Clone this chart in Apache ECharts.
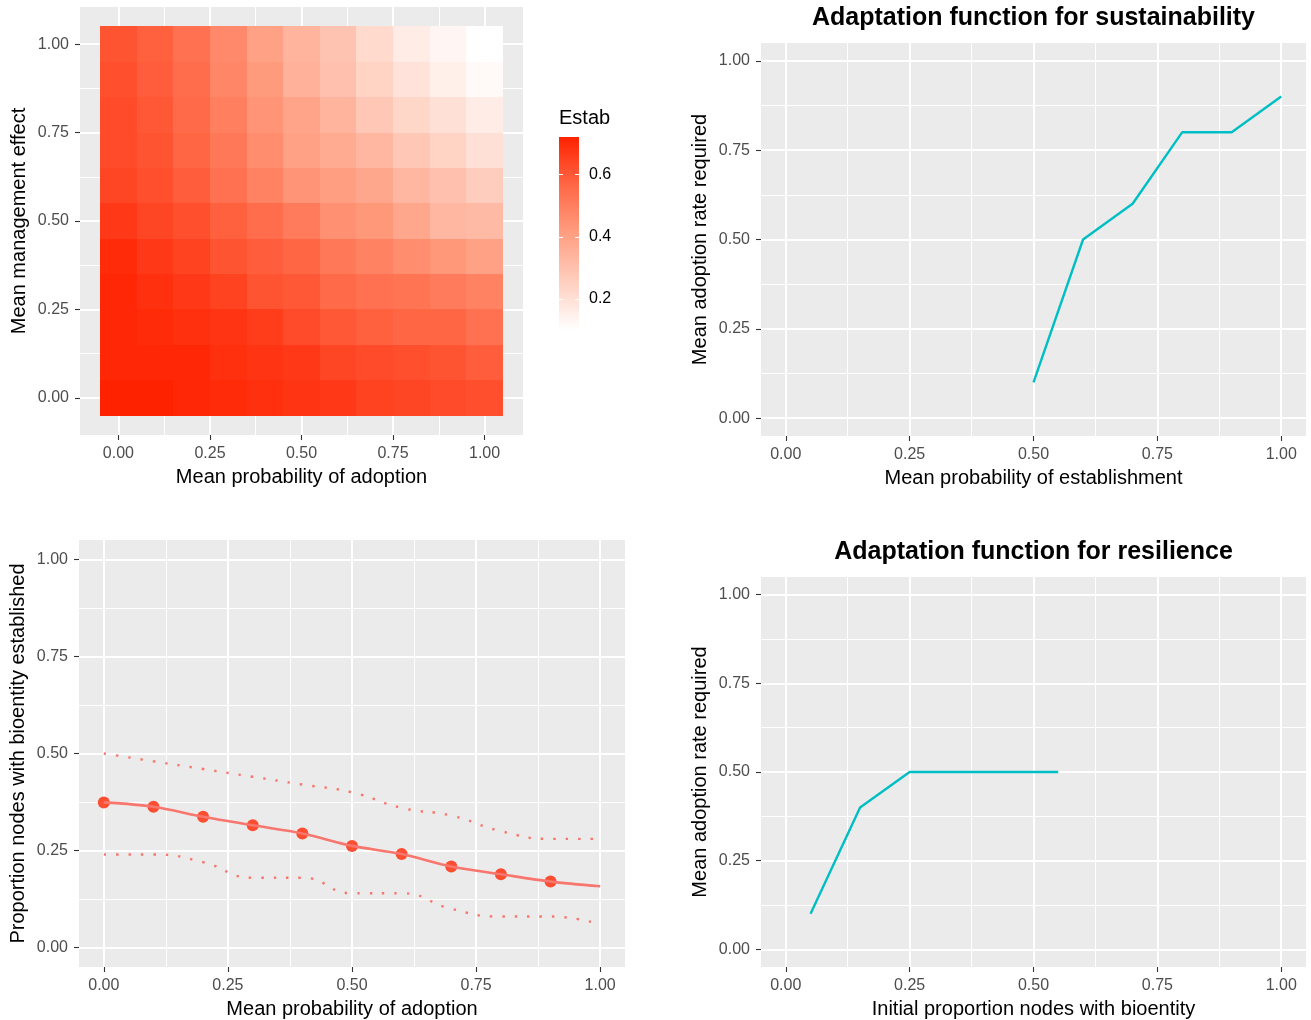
<!DOCTYPE html>
<html><head><meta charset="utf-8">
<script src="https://cdn.jsdelivr.net/npm/echarts@6/dist/echarts.min.js"></script>
<style>html,body{margin:0;padding:0;background:#fff}#c{width:1311px;height:1020px}</style>
</head><body><div id="c"></div>
<script>
const FONT = "'Liberation Sans', Arial, Helvetica, sans-serif";

// ---- Panel 1: heatmap (Estab) ----
const heatX = [0, 0.1, 0.2, 0.3, 0.4, 0.5, 0.6, 0.7, 0.8, 0.9, 1.0];
const heatY = [1.0, 0.9, 0.8, 0.7, 0.6, 0.5, 0.4, 0.3, 0.2, 0.1, 0.0];
const estabY100 = [0.61,0.58,0.54,0.47,0.40,0.34,0.29,0.22,0.16,0.13,0.10];
const estabY090 = [0.62,0.59,0.55,0.48,0.42,0.35,0.30,0.24,0.19,0.15,0.12];
const estabY080 = [0.63,0.60,0.56,0.50,0.44,0.39,0.34,0.28,0.23,0.20,0.16];
const estabY070 = [0.63,0.61,0.57,0.52,0.46,0.40,0.37,0.33,0.28,0.24,0.20];
const estabY060 = [0.64,0.62,0.59,0.54,0.49,0.44,0.41,0.38,0.33,0.30,0.26];
const estabY050 = [0.67,0.64,0.62,0.58,0.55,0.51,0.45,0.43,0.38,0.33,0.32];
const estabY040 = [0.70,0.67,0.65,0.61,0.59,0.57,0.52,0.49,0.46,0.43,0.40];
const estabY030 = [0.71,0.69,0.67,0.65,0.61,0.60,0.56,0.54,0.53,0.51,0.49];
const estabY020 = [0.71,0.70,0.69,0.68,0.66,0.63,0.60,0.58,0.57,0.57,0.54];
const estabY010 = [0.71,0.71,0.71,0.69,0.68,0.67,0.64,0.63,0.62,0.61,0.59];
const estabY000 = [0.72,0.72,0.71,0.70,0.69,0.68,0.67,0.65,0.64,0.63,0.62];
const estabRows = [estabY100, estabY090, estabY080, estabY070, estabY060, estabY050,
                   estabY040, estabY030, estabY020, estabY010, estabY000];
const estabMin = 0.1, estabMax = 0.72;
const estabLegendTicks = [0.2, 0.4, 0.6];
const estabColors = ['#FFFFFF', '#FFCFBF', '#FF9E81', '#FF6846', '#FF2200'];

// ---- Panel 3: proportion established ----
const adoptX = [0, 0.1, 0.2, 0.3, 0.4, 0.5, 0.6, 0.7, 0.8, 0.9, 1.0];
const meanY  = [0.374, 0.363, 0.337, 0.315, 0.294, 0.262, 0.241, 0.209, 0.189, 0.170, 0.158];
const pointX = [0, 0.1, 0.2, 0.3, 0.4, 0.5, 0.6, 0.7, 0.8, 0.9];
const pointY = [0.374, 0.363, 0.337, 0.315, 0.294, 0.262, 0.241, 0.209, 0.189, 0.170];
const upperY = [0.50, 0.48, 0.46, 0.44, 0.42, 0.40, 0.36, 0.34, 0.30, 0.28, 0.28];
const lowerY = [0.24, 0.24, 0.22, 0.18, 0.18, 0.14, 0.14, 0.10, 0.08, 0.08, 0.06];

// ---- Panel 2: sustainability ----
const sustX = [0.5, 0.6, 0.7, 0.8, 0.9, 1.0];
const sustY = [0.1, 0.5, 0.6, 0.8, 0.8, 0.9];

// ---- Panel 4: resilience ----
const resX = [0.05, 0.15, 0.25, 0.35, 0.45, 0.55];
const resY = [0.1, 0.4, 0.5, 0.5, 0.5, 0.5];

const majorTicks = [0, 0.25, 0.5, 0.75, 1];
const minorTicks = [0.125, 0.375, 0.625, 0.875];

const zip = (xs, ys) => xs.map((x, i) => [x, ys[i]]);

const grids = [
  {left: 80,  top: 7,   width: 443, height: 428},
  {left: 761, top: 43,  width: 545, height: 393},
  {left: 79,  top: 540, width: 546, height: 429},
  {left: 761, top: 577, width: 545, height: 392}
];
const extents = [[-0.105, 1.105], [-0.05, 1.05], [-0.05, 1.05], [-0.05, 1.05]];
const xNames = ['Mean probability of adoption', 'Mean probability of establishment',
                'Mean probability of adoption', 'Initial proportion nodes with bioentity'];
const yNames = ['Mean management effect', 'Mean adoption rate required',
                'Proportion nodes with bioentity established', 'Mean adoption rate required'];

function axisPair(dim, g) {
  const ext = extents[g];
  const isX = dim === 'x';
  const major = {
    type: 'value', gridIndex: g, min: ext[0], max: ext[1],
    position: isX ? 'bottom' : 'left',
    axisLine: {show: false, onZero: false},
    axisTick: {show: true, length: 5, customValues: majorTicks, lineStyle: {color: '#333333', width: 1.1}},
    axisLabel: {show: true, customValues: majorTicks, formatter: v => v.toFixed(2),
                color: '#4D4D4D', fontSize: 16, fontFamily: FONT, margin: isX ? 11 : 11},
    splitLine: {show: true, lineStyle: {color: '#FFFFFF', width: 2}},
    name: isX ? xNames[g] : yNames[g], nameLocation: 'middle', nameGap: isX ? 32 : 51,
    nameTextStyle: {color: '#000000', fontSize: 20, fontFamily: FONT}
  };
  const minor = {
    type: 'value', gridIndex: g, min: ext[0], max: ext[1],
    position: isX ? 'top' : 'right',
    axisLine: {show: false, onZero: false},
    axisTick: {show: false, customValues: minorTicks},
    axisLabel: {show: false},
    splitLine: {show: true, lineStyle: {color: '#FFFFFF', width: 1}}
  };
  return [major, minor];
}
const xAxes = [], yAxes = [];
for (let g = 0; g < 4; g++) { xAxes.push(...axisPair('x', g)); yAxes.push(...axisPair('y', g)); }

const heatData = [];
heatY.forEach((y, r) => heatX.forEach((x, c) => heatData.push([x, y, estabRows[r][c]])));

// legend geometry (colour bar)
const barLeft = 559, barWidth = 20, barTop = 137, barBottom = 330;
const vToY = v => barTop + (estabMax - v) / (estabMax - estabMin) * (barBottom - barTop);
const legendGraphics = [
  {type: 'text', x: barLeft, y: 118, style: {text: 'Estab', font: '20px ' + FONT, fill: '#000', verticalAlign: 'middle', align: 'left'}},
  {type: 'rect', shape: {x: barLeft, y: barTop, width: barWidth, height: barBottom - barTop},
   style: {fill: new echarts.graphic.LinearGradient(0, 0, 0, 1,
     estabColors.slice().reverse().map((c, i, a) => ({offset: i / (a.length - 1), color: c})))}}
];
estabLegendTicks.forEach(v => {
  const y = Math.round(vToY(v)) + 0.5;
  legendGraphics.push({type: 'line', shape: {x1: barLeft, y1: y, x2: barLeft + 4, y2: y}, style: {stroke: '#fff', lineWidth: 1}});
  legendGraphics.push({type: 'line', shape: {x1: barLeft + barWidth - 4, y1: y, x2: barLeft + barWidth, y2: y}, style: {stroke: '#fff', lineWidth: 1}});
  legendGraphics.push({type: 'text', x: barLeft + barWidth + 10, y: vToY(v),
    style: {text: v.toFixed(1), font: '16px ' + FONT, fill: '#000', verticalAlign: 'middle', align: 'left'}});
});

const titleGraphics = [
  {type: 'text', x: grids[1].left + grids[1].width / 2, y: 18,
   style: {text: 'Adaptation function for sustainability', font: 'bold 25px ' + FONT, fill: '#000', align: 'center', verticalAlign: 'middle'}},
  {type: 'text', x: grids[3].left + grids[3].width / 2, y: 552,
   style: {text: 'Adaptation function for resilience', font: 'bold 25px ' + FONT, fill: '#000', align: 'center', verticalAlign: 'middle'}}
];

const chart = echarts.init(document.getElementById('c'), null, {renderer: 'canvas'});
chart.setOption({
  animation: false,
  backgroundColor: '#FFFFFF',
  grid: grids.map(g => Object.assign({show: true, backgroundColor: '#EBEBEB', borderWidth: 0}, g)),
  xAxis: xAxes,
  yAxis: yAxes,
  visualMap: {type: 'continuous', show: false, min: estabMin, max: estabMax, dimension: 2,
              seriesIndex: 0, inRange: {color: estabColors}},
  series: [
    {
      type: 'custom', xAxisIndex: 0, yAxisIndex: 0, data: heatData,
      encode: {x: 0, y: 1},
      renderItem: function (params, api) {
        const x = api.value(0), y = api.value(1);
        const a = api.coord([x - 0.05, y + 0.05]);
        const b = api.coord([x + 0.05, y - 0.05]);
        const x0 = Math.round(a[0]), y0 = Math.round(a[1]);
        const x1 = Math.round(b[0]), y1 = Math.round(b[1]);
        return {type: 'rect', shape: {x: x0, y: y0, width: x1 - x0, height: y1 - y0},
                style: {fill: api.visual('color')}};
      }
    },
    {
      type: 'line', xAxisIndex: 2, yAxisIndex: 2, data: zip(sustX, sustY),
      symbol: 'none', lineStyle: {color: '#00BFC4', width: 2.4}
    },
    {
      type: 'line', xAxisIndex: 4, yAxisIndex: 4, data: zip(adoptX, upperY), smooth: 0.5,
      symbol: 'none', lineStyle: {color: '#F8766D', width: 2.4, type: [2.4, 10]}
    },
    {
      type: 'line', xAxisIndex: 4, yAxisIndex: 4, data: zip(adoptX, lowerY), smooth: 0.5,
      symbol: 'none', lineStyle: {color: '#F8766D', width: 2.4, type: [2.4, 10]}
    },
    {
      type: 'line', xAxisIndex: 4, yAxisIndex: 4, data: zip(adoptX, meanY), smooth: 0.3,
      symbol: 'none', lineStyle: {color: '#F8766D', width: 2.6}
    },
    {
      type: 'scatter', xAxisIndex: 4, yAxisIndex: 4, data: zip(pointX, pointY),
      symbol: 'circle', symbolSize: 12, itemStyle: {color: '#FF2600'}
    },
    {
      type: 'line', xAxisIndex: 6, yAxisIndex: 6, data: zip(resX, resY),
      symbol: 'none', lineStyle: {color: '#00BFC4', width: 2.4}
    }
  ],
  graphic: legendGraphics.concat(titleGraphics)
});
</script></body></html>
